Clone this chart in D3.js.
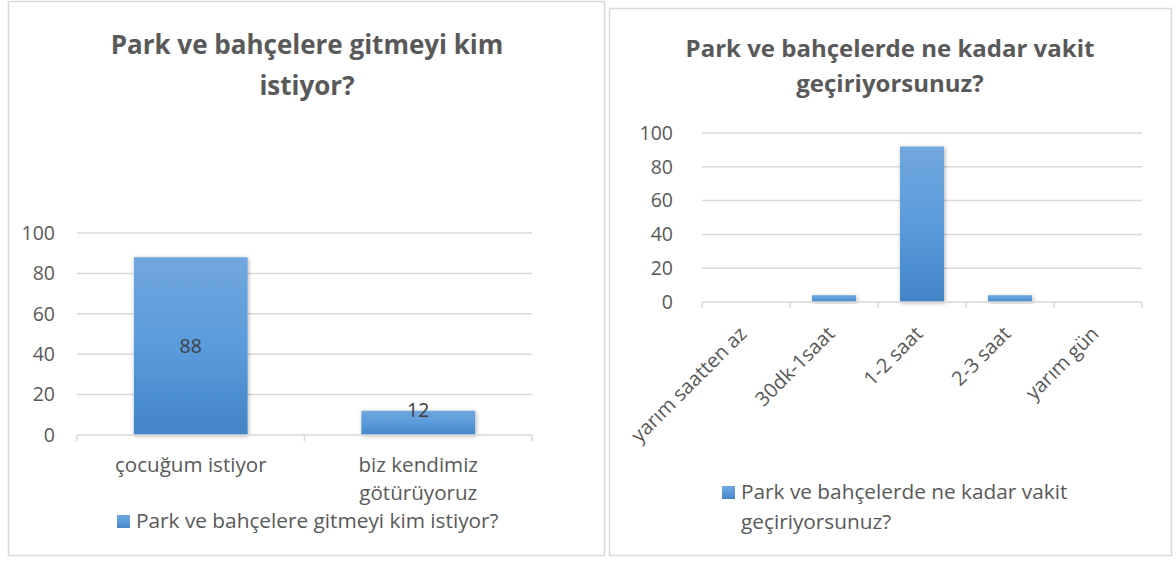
<!DOCTYPE html>
<html>
<head>
<meta charset="utf-8">
<script src="https://d3js.org/d3.v7.min.js"></script>
<style>
  body { margin:0; background:#fff; }
  svg { font-family: "Open Sans", "Noto Sans", sans-serif; }
</style>
</head>
<body>
<svg id="chart" width="1176" height="563"></svg>
<script>
// chart 1
var title1 = ["Park ve bahçelere gitmeyi kim", "istiyor?"];
var cats1 = ["çocuğum istiyor", "biz kendimiz\ngötürüyoruz"];
var vals1 = [88, 12];
var legend1 = ["Park ve bahçelere gitmeyi kim istiyor?"];

// chart 2
var title2 = ["Park ve bahçelerde ne kadar vakit", "geçiriyorsunuz?"];
var cats2 = ["yarım saatten az", "30dk-1saat", "1-2 saat", "2-3 saat", "yarım gün"];
var vals2 = [0, 4, 92, 4, 0];
var legend2 = ["Park ve bahçelerde ne kadar vakit", "geçiriyorsunuz?"];

var yTicks = [0, 20, 40, 60, 80, 100];

var textCol = "#595959";
var gridCol = "#d9d9d9";

var svg = d3.select("#chart");

var defs = svg.append("defs");
var grad = defs.append("linearGradient").attr("id", "barGrad")
    .attr("x1", 0).attr("y1", 0).attr("x2", 0).attr("y2", 1);
grad.append("stop").attr("offset", "0%").attr("stop-color", "#71a7dd");
grad.append("stop").attr("offset", "50%").attr("stop-color", "#5a9bdb");
grad.append("stop").attr("offset", "100%").attr("stop-color", "#4285c7");
var sh = defs.append("filter").attr("id", "shadow").attr("x", "-20%").attr("y", "-20%").attr("width", "140%").attr("height", "140%");
sh.append("feDropShadow").attr("dx", 1).attr("dy", 1).attr("stdDeviation", 2).attr("flood-color", "#000").attr("flood-opacity", 0.3);

function panel(cfg) {
  var g = svg.append("g");

  // frame
  g.append("rect")
    .attr("x", cfg.box[0] + 0.5).attr("y", cfg.box[1] + 0.5)
    .attr("width", cfg.box[2]).attr("height", cfg.box[3])
    .attr("fill", "#fff").attr("stroke", gridCol).attr("stroke-width", 1.5);

  // title
  g.selectAll("text.title").data(cfg.title).enter().append("text")
    .attr("class", "title")
    .attr("x", cfg.titleX)
    .attr("y", function(d, i) { return cfg.titleY + i * cfg.titleLH; })
    .attr("text-anchor", "middle")
    .attr("font-size", cfg.titleSize).attr("font-weight", "bold")
    .attr("fill", textCol)
    .text(function(d) { return d; });

  var x = d3.scaleBand().domain(cfg.cats)
    .range([cfg.plot[0], cfg.plot[1]])
    .paddingInner(0.5).paddingOuter(0.25);
  var y = d3.scaleLinear().domain([0, 100]).range([cfg.plot[3], cfg.plot[2]]);

  // gridlines
  g.selectAll("line.grid").data(yTicks.slice(1)).enter().append("line")
    .attr("x1", cfg.plot[0]).attr("x2", cfg.plot[1])
    .attr("y1", function(d) { return y(d); }).attr("y2", function(d) { return y(d); })
    .attr("stroke", gridCol).attr("stroke-width", 1.5);

  // y axis labels
  var ya = g.append("g").attr("transform", "translate(" + cfg.plot[0] + ",0)")
    .call(d3.axisLeft(y).tickValues(yTicks).tickSize(0).tickPadding(cfg.yPad));
  ya.select(".domain").remove();
  ya.selectAll("text").attr("font-size", cfg.tickSize).attr("fill", textCol)
    .attr("font-family", "'Open Sans', 'Noto Sans', sans-serif");

  // bars
  g.selectAll("rect.bar").data(cfg.vals).enter().append("rect")
    .attr("class", "bar")
    .attr("x", function(d, i) { return x(cfg.cats[i]); })
    .attr("width", x.bandwidth())
    .attr("y", function(d) { return y(d); })
    .attr("height", function(d) { return y(0) - y(d); })
    .attr("fill", "url(#barGrad)")
    .attr("filter", "url(#shadow)");

  // x axis line + ticks between categories
  var xa = g.append("g");
  xa.append("line")
    .attr("x1", cfg.plot[0]).attr("x2", cfg.plot[1])
    .attr("y1", y(0)).attr("y2", y(0))
    .attr("stroke", gridCol).attr("stroke-width", 1.5);
  var tickPos = d3.range(cfg.cats.length + 1).map(function(i) { return cfg.plot[0] + i * x.step(); });
  xa.selectAll("line.tk").data(tickPos).enter().append("line")
    .attr("x1", function(d) { return d; }).attr("x2", function(d) { return d; })
    .attr("y1", y(0)).attr("y2", y(0) + 6)
    .attr("stroke", gridCol).attr("stroke-width", 1.5);

  // category labels
  if (cfg.rotate) {
    g.selectAll("text.cat").data(cfg.cats).enter().append("text")
      .attr("transform", function(d) {
        return "translate(" + (x(d) + x.bandwidth() / 2 + 2) + "," + (y(0) + 33) + ") rotate(-45)";
      })
      .attr("text-anchor", "end")
      .attr("font-size", cfg.catSize).attr("fill", textCol)
      .text(function(d) { return d; });
  } else {
    cfg.cats.forEach(function(c) {
      var lines = c.split("\n");
      g.selectAll(null).data(lines).enter().append("text")
        .attr("x", x(c) + x.bandwidth() / 2)
        .attr("y", function(d, i) { return y(0) + 37 + i * 28; })
        .attr("text-anchor", "middle")
        .attr("font-size", cfg.catSize).attr("fill", textCol)
        .text(function(d) { return d; });
    });
  }

  // data labels
  if (cfg.labels) {
    g.selectAll("text.dl").data(cfg.vals).enter().append("text")
      .attr("x", function(d, i) { return x(cfg.cats[i]) + x.bandwidth() / 2; })
      .attr("y", function(d) { return d > 50 ? (y(d) + y(0)) / 2 + 7 : y(d) + 6; })
      .attr("text-anchor", "middle")
      .attr("font-size", cfg.tickSize).attr("fill", "#404040")
      .text(function(d) { return d; });
  }

  // legend
  g.append("rect")
    .attr("x", cfg.legend[0]).attr("y", cfg.legend[1])
    .attr("width", 13).attr("height", 13)
    .attr("fill", "url(#barGrad)");
  g.selectAll("text.lg").data(cfg.legendText).enter().append("text")
    .attr("x", cfg.legend[0] + 19)
    .attr("y", function(d, i) { return cfg.legend[1] + 13 + i * 30; })
    .attr("font-size", cfg.legendSize).attr("fill", textCol)
    .text(function(d) { return d; });
}

panel({
  box: [8, 1, 596, 554],
  title: title1, titleX: 307, titleY: 54, titleLH: 41, titleSize: 26,
  cats: cats1, vals: vals1,
  plot: [77, 532, 233, 435],
  yPad: 22, tickSize: 19.5, catSize: 20.6, legendSize: 20.8, rotate: false, labels: true,
  legend: [117, 515], legendText: legend1
});

panel({
  box: [609, 8, 562, 547],
  title: title2, titleX: 890, titleY: 57, titleLH: 35, titleSize: 24,
  cats: cats2, vals: vals2,
  plot: [702, 1142, 133, 302],
  yPad: 29, tickSize: 19.5, catSize: 20, legendSize: 20.8, rotate: true, labels: false,
  legend: [722, 486], legendText: legend2
});
</script>
</body>
</html>
